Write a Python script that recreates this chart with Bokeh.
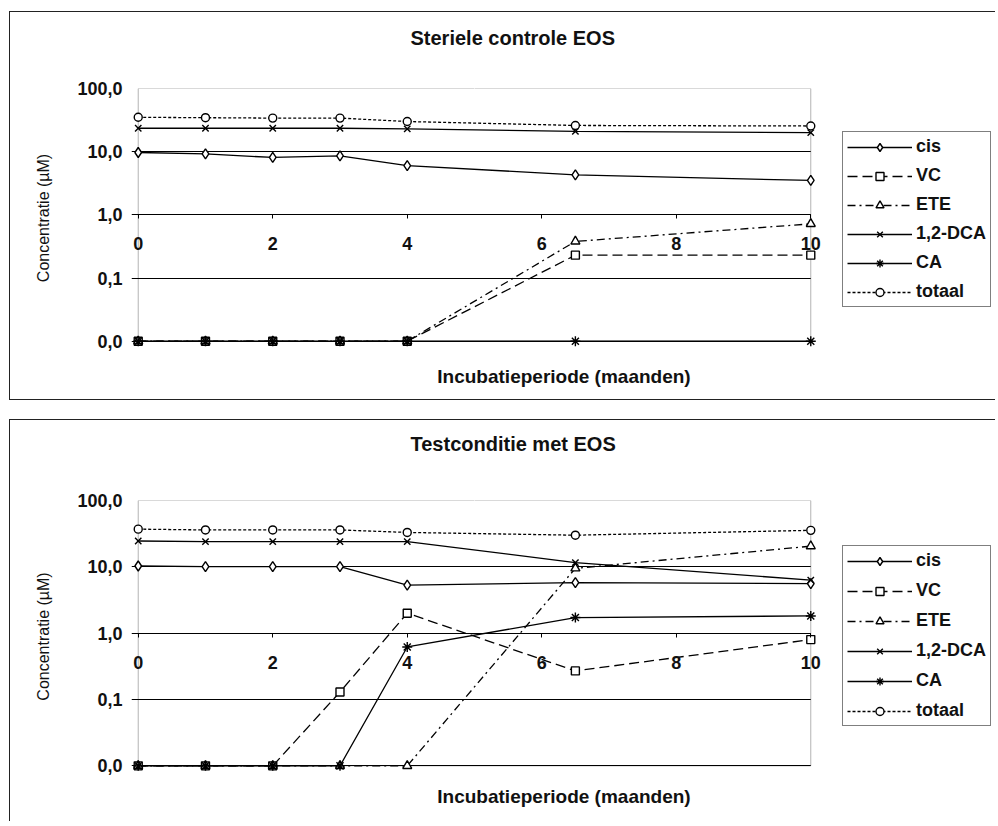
from bokeh.plotting import figure
from bokeh.models import (Range1d, FixedTicker, LinearAxis, Legend, LegendItem,
                          BoxAnnotation, CustomJSTickFormatter, Title)
from bokeh.layouts import column
from bokeh.embed import file_html
from bokeh.resources import INLINE

# ---------------- data ----------------
months = [0, 1, 2, 3, 4, 6.5, 10]
series_names = ["cis", "VC", "ETE", "1,2-DCA", "CA", "totaal"]

steriel_cis = [9.7, 9.2, 8.1, 8.6, 6.0, 4.3, 3.5]
steriel_vc = [0.01, 0.01, 0.01, 0.01, 0.01, 0.23, 0.23]
steriel_ete = [0.01, 0.01, 0.01, 0.01, 0.01, 0.38, 0.72]
steriel_dca = [23.5, 23.5, 23.5, 23.5, 23.0, 21.0, 20.0]
steriel_ca = [0.01, 0.01, 0.01, 0.01, 0.01, 0.01, 0.01]
steriel_totaal = [35.0, 34.5, 34.0, 34.0, 30.0, 26.0, 25.5]

test_cis = [10.3, 10.1, 10.1, 10.1, 5.3, 5.8, 5.6]
test_vc = [0.01, 0.01, 0.01, 0.13, 2.0, 0.27, 0.8]
test_ete = [0.01, 0.01, 0.01, 0.01, 0.01, 9.5, 20.5]
test_dca = [24.5, 24.0, 24.0, 24.0, 24.0, 11.6, 6.3]
test_ca = [0.01, 0.01, 0.01, 0.01, 0.62, 1.72, 1.82]
test_totaal = [37.0, 36.0, 36.0, 36.0, 33.0, 30.0, 35.5]

y_ticks = [0.01, 0.1, 1, 10, 100]
x_ticks = [0, 2, 4, 6, 8, 10]
x_min, x_max = 0, 10
y_min, y_max = 0.01, 100

title_top = "Steriele controle EOS"
title_bottom = "Testconditie met EOS"
x_label = "Incubatieperiode (maanden)"
y_label = "Concentratie (\u00b5M)"

FONT = "Liberation Sans"

styles = {
    "cis":     dict(dash="solid",   marker="diamond",  size=10, fill="white"),
    "VC":      dict(dash="10 5",    marker="square",   size=8,  fill="white"),
    "ETE":     dict(dash="8 4 2 4", marker="triangle", size=9,  fill="white"),
    "1,2-DCA": dict(dash="solid",   marker="x",        size=9,  fill="black"),
    "CA":      dict(dash="solid",   marker="asterisk", size=10, fill="black"),
    "totaal":  dict(dash="3 2",     marker="circle",   size=8,  fill="white"),
}

# layout geometry (pixels)
FIG_W = 986
BORDER_L = 121
PX_PER_UNIT = 686 / 10.2          # data area 0..10 spans ~672 px, plus 0.1 padding each side
X_LO = -0.1
X_HI = X_LO + (FIG_W - BORDER_L) / PX_PER_UNIT   # frame reaches the right edge (room for legend)


def make_panel(title, data, height, top_border, bottom_border, title_gap,
               xtick_standoff, xlabel_standoff, legend_loc, legend_spacing, margin,
               border_style):
    p = figure(width=FIG_W, height=height,
               x_range=Range1d(X_LO, X_HI), y_range=Range1d(10 ** -2.1, 100),
               y_axis_type="log", output_backend="svg", toolbar_location=None,
               min_border_left=BORDER_L, min_border_right=0,
               min_border_top=top_border, min_border_bottom=bottom_border,
               margin=margin)
    p.title = None
    p.outline_line_color = None
    p.background_fill_color = "white"
    p.border_fill_color = "white"
    p.styles = border_style

    # default axes (grab them before adding any extra axes)
    xa = p.xaxis[0]
    ya = p.yaxis[0]

    # grid
    p.xgrid.visible = False
    p.ygrid.ticker = FixedTicker(ticks=y_ticks)
    p.ygrid.grid_line_color = "black"
    p.ygrid.grid_line_width = 1

    # cover grid lines right of x_max
    p.add_layout(BoxAnnotation(left=x_max, fill_color="white", fill_alpha=1,
                               line_alpha=0, level="underlay"))
    # plot area box
    p.add_layout(BoxAnnotation(left=x_min, right=x_max, bottom=y_min, top=y_max,
                               fill_alpha=0, line_color="black", line_width=1,
                               level="underlay"))

    # x axis crossing at 1.0
    xa.fixed_location = 1
    xa.bounds = (x_min, x_max)
    xa.ticker = FixedTicker(ticks=x_ticks)
    xa.major_tick_out = 4
    xa.major_tick_in = 0
    xa.minor_tick_line_color = None
    xa.major_label_standoff = xtick_standoff
    xa.major_label_text_font = FONT
    xa.major_label_text_font_size = "18px"
    xa.major_label_text_font_style = "bold"
    xa.major_label_text_color = "#111"
    xa.axis_line_color = "black"

    # y axis (its line is the plot-area box edge at x = 0)
    ya.ticker = FixedTicker(ticks=y_ticks)
    ya.formatter = CustomJSTickFormatter(code="return tick.toFixed(1).replace('.', ',');")
    ya.axis_line_color = None
    ya.major_tick_line_color = None
    ya.major_tick_out = 0
    ya.major_tick_in = 0
    ya.minor_tick_line_color = None
    ya.major_label_standoff = 9
    ya.major_label_text_font = FONT
    ya.major_label_text_font_size = "18px"
    ya.major_label_text_font_style = "bold"
    ya.major_label_text_color = "#111"
    ya.axis_label = y_label
    ya.axis_label_text_font = FONT
    ya.axis_label_text_font_size = "16px"
    ya.axis_label_text_font_style = "normal"
    ya.axis_label_text_color = "#111"
    ya.axis_label_standoff = 22

    # x axis title below the plot area, centred on 0..10
    lab_axis = LinearAxis(ticker=FixedTicker(ticks=[]), axis_label=x_label,
                          bounds=(x_min, x_max),
                          axis_line_color=None, major_tick_line_color=None,
                          minor_tick_line_color=None, major_label_text_font_size="0px",
                          major_tick_out=0, major_label_standoff=0,
                          axis_label_standoff=xlabel_standoff,
                          axis_label_text_font=FONT, axis_label_text_font_size="19px",
                          axis_label_text_font_style="bold", axis_label_text_color="#111")
    p.add_layout(lab_axis, "below")

    # white spacer between plot area and title: a single white tick with no label
    spacer = LinearAxis(ticker=FixedTicker(ticks=[x_max / 2]), axis_line_color=None,
                        major_tick_line_color="white", minor_tick_line_color=None,
                        major_tick_out=title_gap, major_tick_in=0, minor_tick_out=0,
                        formatter=CustomJSTickFormatter(code="return '';"),
                        major_label_text_font_size="0px", major_label_standoff=0)
    p.add_layout(spacer, "above")

    # chart title, outside the spacer
    t = Title(text=title, align="left", offset=279, standoff=0, vertical_align="bottom",
              text_font=FONT, text_font_size="20px", text_font_style="bold",
              text_color="#111")
    p.add_layout(t, "above")

    items = []
    for name, vals in zip(series_names, data):
        st = styles[name]
        lr = p.line(months, vals, line_color="black", line_width=1.3, line_dash=st["dash"])
        sr = p.scatter(months, vals, marker=st["marker"], size=st["size"],
                       line_color="black", line_width=1.4, fill_color=st["fill"])
        items.append(LegendItem(label=name, renderers=[lr, sr]))

    legend = Legend(items=items, location=legend_loc, glyph_width=65, glyph_height=20,
                    label_height=20, label_standoff=4, spacing=legend_spacing, padding=4,
                    margin=0, border_line_color="black", border_line_width=1,
                    background_fill_color="white", background_fill_alpha=1,
                    label_text_font=FONT, label_text_font_size="18px",
                    label_text_font_style="bold", label_text_color="#111")
    p.add_layout(legend)
    return p


box_full = {"border-left": "1px solid #222", "border-top": "1px solid #222",
            "border-bottom": "1px solid #222"}
box_open = {"border-left": "1px solid #222", "border-top": "1px solid #222"}

p1 = make_panel(title_top,
                [steriel_cis, steriel_vc, steriel_ete, steriel_dca, steriel_ca, steriel_totaal],
                height=389, top_border=76, bottom_border=54, title_gap=40,
                xtick_standoff=18, xlabel_standoff=18, legend_loc=(711, 40),
                legend_spacing=8, margin=(11, 0, 0, 9), border_style=box_full)
p2 = make_panel(title_bottom,
                [test_cis, test_vc, test_ete, test_dca, test_ca, test_totaal],
                height=402, top_border=80, bottom_border=50, title_gap=46,
                xtick_standoff=19, xlabel_standoff=13, legend_loc=(711, 46),
                legend_spacing=9, margin=(19, 0, 0, 9), border_style=box_open)

layout = column(p1, p2)
open("out.html", "w").write(file_html(layout, INLINE))
